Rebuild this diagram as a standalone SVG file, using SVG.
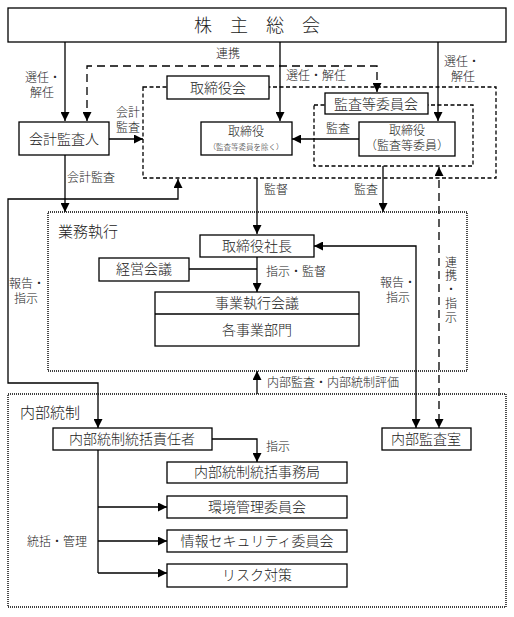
<svg xmlns="http://www.w3.org/2000/svg" width="514" height="617" viewBox="0 0 514 617">
<style>
text{font-family:"Liberation Serif","Noto Sans CJK JP",serif;font-weight:300;fill:#222;dominant-baseline:central}
.box{fill:#fff;stroke:#000;stroke-width:1.3}
.t14{font-size:14px;text-anchor:middle}
.t12{font-size:12px;text-anchor:middle}
.lbl{font-size:12px}
.grp{font-size:15px}
.ln{fill:none;stroke:#000;stroke-width:1.3}
.dash{fill:none;stroke:#000;stroke-width:1.3;stroke-dasharray:4 2.5}
.ldash{fill:none;stroke:#000;stroke-width:1.3;stroke-dasharray:8 5}
.dot{fill:none;stroke:#000;stroke-width:1.4;stroke-dasharray:1 1}
</style>
<defs>
<marker id="ah" viewBox="0 0 10 10" refX="10" refY="5" markerWidth="9" markerHeight="9" markerUnits="userSpaceOnUse" orient="auto-start-reverse">
<path d="M0,0 L10,5 L0,10 z" fill="#000"/>
</marker>
</defs>
<rect width="514" height="617" fill="#fff"/>

<g id="region-boards">
<rect class="dash" x="143" y="87" width="353" height="91"/>
<rect class="dash" x="314" y="105" width="159" height="61"/>
</g>
<g id="region-gyomu">
<rect class="dot" x="48" y="212" width="419" height="159"/>
<text class="grp" x="58" y="232">業務執行</text>
</g>
<g id="region-naibu">
<rect class="dot" x="8" y="394" width="498" height="213"/>
<text class="grp" x="20" y="413">内部統制</text>
</g>

<g id="connectors">
<path class="ln" d="M65,42 V121" marker-end="url(#ah)"/>
<path class="ln" d="M280,42 V121" marker-end="url(#ah)"/>
<path class="ln" d="M438,42 V121" marker-end="url(#ah)"/>
<path class="ldash" d="M87,121 V66 H377 V92" marker-start="url(#ah)" marker-end="url(#ah)"/>
<path class="ln" d="M109,139 H143" marker-end="url(#ah)"/>
<path class="ln" d="M65,155 V212" marker-end="url(#ah)"/>
<path class="ln" d="M359,139 H292" marker-end="url(#ah)"/>
<path class="ln" d="M257,178 V234" marker-end="url(#ah)"/>
<path class="ln" d="M383,166 V212" marker-end="url(#ah)"/>
<path class="ln" d="M178,179 V199 H8 V383 H98 V428" marker-start="url(#ah)" marker-end="url(#ah)"/>
<path class="ln" d="M314,246 H416 V428" marker-start="url(#ah)" marker-end="url(#ah)"/>
<path class="ldash" d="M439,167 V428" marker-start="url(#ah)" marker-end="url(#ah)"/>
<path class="ln" d="M189,269 H257"/>
<path class="ln" d="M257,257 V292" marker-end="url(#ah)"/>
<path class="ln" d="M257,394 V371" marker-end="url(#ah)"/>
<path class="ln" d="M212,439 H257 V462" marker-end="url(#ah)"/>
<path class="ln" d="M98,450 V573"/>
<path class="ln" d="M98,507 H167" marker-end="url(#ah)"/>
<path class="ln" d="M98,541 H167" marker-end="url(#ah)"/>
<path class="ln" d="M98,573 H167" marker-end="url(#ah)"/>
</g>

<g id="labels">
<text class="lbl" x="228" y="54" text-anchor="middle">連携</text>
<text class="lbl" x="25" y="78">選任・</text>
<text class="lbl" x="30" y="93">解任</text>
<text class="lbl" x="286" y="76">選任・解任</text>
<text class="lbl" x="444" y="62">選任・</text>
<text class="lbl" x="451" y="77">解任</text>
<text class="lbl" x="128" y="113" text-anchor="middle">会計</text>
<text class="lbl" x="128" y="128" text-anchor="middle">監査</text>
<text class="lbl" x="67" y="178">会計監査</text>
<text class="lbl" x="326" y="129">監査</text>
<text class="lbl" x="264" y="190">監督</text>
<text class="lbl" x="354" y="190">監査</text>
<text class="lbl" x="9" y="284">報告・</text>
<text class="lbl" x="14" y="299">指示</text>
<text class="lbl" x="266" y="272">指示・監督</text>
<text class="lbl" x="380" y="283">報告・</text>
<text class="lbl" x="386" y="298">指示</text>
<text class="lbl" x="451" y="263" text-anchor="middle">連</text>
<text class="lbl" x="451" y="276" text-anchor="middle">携</text>
<text class="lbl" x="451" y="290" text-anchor="middle">・</text>
<text class="lbl" x="451" y="304" text-anchor="middle">指</text>
<text class="lbl" x="451" y="318" text-anchor="middle">示</text>
<text class="lbl" x="267" y="383">内部監査・内部統制評価</text>
<text class="lbl" x="266" y="447">指示</text>
<text class="lbl" x="27" y="542">統括・管理</text>
</g>

<g id="kabunushi">
<rect class="box" x="8" y="8" width="498" height="34"/>
<text x="257" y="26" style="font-size:18px;text-anchor:middle">株　主　総　会</text>
</g>
<g id="torishimariyakukai">
<rect class="box" x="167" y="76" width="102" height="23"/>
<text class="t14" x="218" y="88">取締役会</text>
</g>
<g id="kansatou-iinkai">
<rect class="box" x="325" y="93" width="103" height="21"/>
<text class="t14" x="376" y="104">監査等委員会</text>
</g>
<g id="kaikei-kansanin">
<rect class="box" x="19" y="122" width="90" height="33"/>
<text class="t14" x="64" y="139">会計監査人</text>
</g>
<g id="torishimariyaku">
<rect class="box" x="201" y="122" width="91" height="33"/>
<text class="t12" x="246" y="132">取締役</text>
<text x="246" y="147" style="font-size:7.5px;text-anchor:middle">（監査等委員を除く）</text>
</g>
<g id="torishimariyaku-kansa">
<rect class="box" x="359" y="122" width="96" height="34"/>
<text class="t12" x="407" y="131">取締役</text>
<text class="t12" x="407" y="146">（監査等委員）</text>
</g>
<g id="shacho">
<rect class="box" x="200" y="235" width="114" height="22"/>
<text class="t14" x="257" y="246">取締役社長</text>
</g>
<g id="keiei-kaigi">
<rect class="box" x="99" y="258" width="90" height="23"/>
<text class="t14" x="144" y="269">経営会議</text>
</g>
<g id="jigyo">
<rect class="box" x="155" y="292" width="204" height="54"/>
<line class="ln" x1="155" y1="314" x2="359" y2="314"/>
<text class="t14" x="257" y="303">事業執行会議</text>
<text class="t14" x="257" y="330">各事業部門</text>
</g>
<g id="sekininsha">
<rect class="box" x="53" y="428" width="159" height="22"/>
<text class="t14" x="132" y="439">内部統制統括責任者</text>
</g>
<g id="naibu-kansa">
<rect class="box" x="382" y="428" width="89" height="22"/>
<text class="t14" x="426" y="439">内部監査室</text>
</g>
<g id="jimukyoku">
<rect class="box" x="167" y="462" width="180" height="21"/>
<text class="t14" x="257" y="472">内部統制統括事務局</text>
</g>
<g id="kankyo">
<rect class="box" x="167" y="496" width="180" height="22"/>
<text class="t14" x="257" y="507">環境管理委員会</text>
</g>
<g id="joho">
<rect class="box" x="167" y="530" width="180" height="22"/>
<text class="t14" x="257" y="541">情報セキュリティ委員会</text>
</g>
<g id="risk">
<rect class="box" x="167" y="564" width="180" height="23"/>
<text class="t14" x="257" y="575">リスク対策</text>
</g>
</svg>
